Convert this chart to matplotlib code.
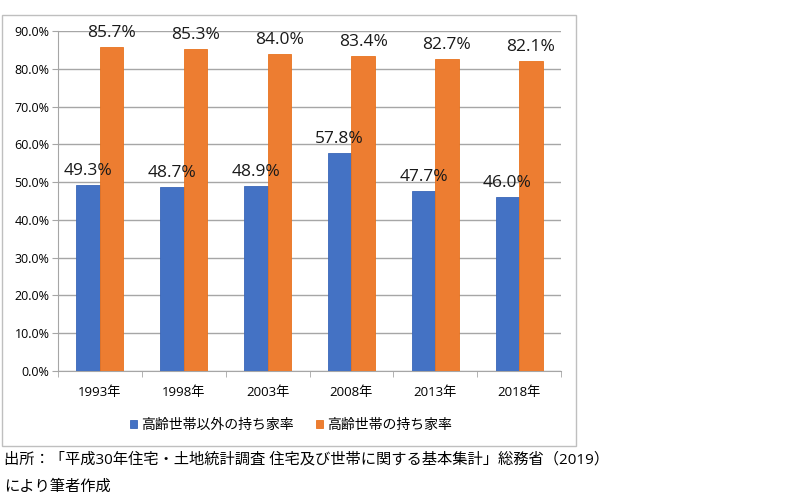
import matplotlib
matplotlib.use('Agg')
import matplotlib.pyplot as plt
import numpy as np
from matplotlib.patches import Rectangle

plt.rcParams['font.family'] = ['Open Sans', 'Noto Sans CJK JP', 'DejaVu Sans']

# data
years = ['1993年', '1998年', '2003年', '2008年', '2013年', '2018年']
non_elderly = [49.3, 48.7, 48.9, 57.8, 47.7, 46.0]
elderly = [85.7, 85.3, 84.0, 83.4, 82.7, 82.1]
series_names = ['高齢世帯以外の持ち家率', '高齢世帯の持ち家率']
source_lines = ['出所：「平成30年住宅・土地統計調査 住宅及び世帯に関する基本集計」総務省（2019）',
                'により筆者作成']

blue = '#4472C4'
orange = '#ED7D31'
grid_c = '#a6a6a6'

fig = plt.figure(figsize=(8, 4.98), dpi=100)

# chart frame
fig.patches.append(Rectangle((2 / 800, 1 - 446 / 498), 574 / 800, 431 / 498,
                             transform=fig.transFigure, fill=False,
                             edgecolor='#bfbfbf', linewidth=1))

ax = fig.add_axes([58 / 800, 1 - 371 / 498, 503 / 800, 340 / 498])

x = np.arange(len(years))
w = 0.28
b1 = ax.bar(x - w / 2, non_elderly, w, color=blue, edgecolor='#3a66b8', linewidth=0.6,
            label=series_names[0], zorder=3)
b2 = ax.bar(x + w / 2, elderly, w, color=orange, edgecolor='#e8731f', linewidth=0.6,
            label=series_names[1], zorder=3)

for bars, vals in ((b1, non_elderly), (b2, elderly)):
    for r, v in zip(bars, vals):
        ax.text(r.get_x() + r.get_width() / 2, v + 1.6, f'{v:.1f}%',
                ha='center', va='bottom', fontsize=12.5, color='#1a1a1a')

ax.set_xlim(-0.5, len(years) - 0.5)
ax.set_ylim(0, 90)
ax.set_yticks(np.arange(0, 91, 10))
ax.set_yticklabels([f'{t:.1f}%' for t in np.arange(0, 91, 10)], fontsize=9)
ax.yaxis.grid(True, color=grid_c, linewidth=1, zorder=0)
ax.set_axisbelow(True)

ax.set_xticks(x)
ax.set_xticklabels(years, fontsize=9.5)
ax.set_xticks(np.arange(-0.5, len(years)), minor=True)
ax.tick_params(axis='x', which='major', length=0, pad=11)
ax.tick_params(axis='x', which='minor', length=4, color=grid_c, direction='out')
ax.tick_params(axis='y', length=4, color=grid_c, pad=2)

for s in ('top', 'right'):
    ax.spines[s].set_visible(False)
ax.spines['left'].set_color(grid_c)
ax.spines['bottom'].set_color(grid_c)

fig.legend(handles=[b1, b2], loc='center', bbox_to_anchor=(291 / 800, 1 - 425 / 498),
           ncol=2, frameon=False, fontsize=10, handlelength=0.5, handleheight=0.5,
           handletextpad=0.3, columnspacing=1.6)

fig.text(4 / 800, 1 - 460 / 498, source_lines[0], fontsize=11, va='center', ha='left')
fig.text(4 / 800, 1 - 487 / 498, source_lines[1], fontsize=11, va='center', ha='left')

fig.savefig('out.png', dpi=100)
